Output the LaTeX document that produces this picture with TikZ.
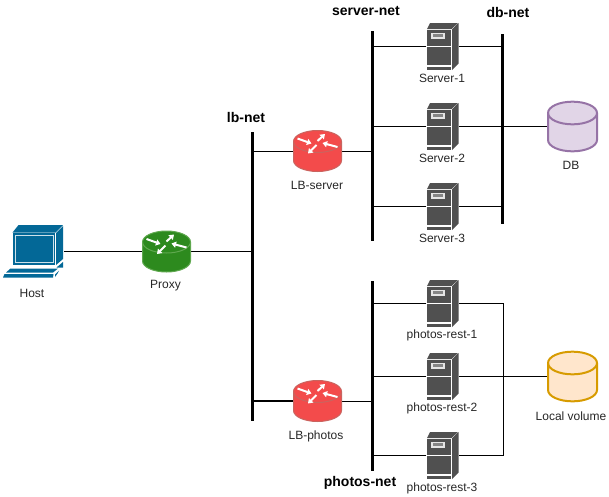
\documentclass[tikz,border=0pt]{standalone}
\usepackage{fontspec}
\setmainfont{Liberation Sans}
\usetikzlibrary{arrows.meta}
\definecolor{hostblue}{HTML}{036897}
\definecolor{srvgrey}{HTML}{505050}
\definecolor{redfill}{HTML}{F34B4B}
\definecolor{redline}{HTML}{C9645F}
\definecolor{greenfill}{HTML}{2D8A1E}
\definecolor{greenline}{HTML}{5FA84F}
\definecolor{dbfill}{HTML}{E1D5E7}
\definecolor{dbline}{HTML}{9673A6}
\definecolor{volfill}{HTML}{FFE6CC}
\definecolor{volline}{HTML}{D79B00}
\tikzset{
  x=0.75pt,y=-0.75pt,
  hostbox/.style={inner sep=0pt,outer sep=0pt,minimum width=45.75pt,minimum height=39.75pt},
  routerbox/.style={inner sep=0pt,outer sep=0pt,minimum width=36.75pt,minimum height=30.75pt},
  serverbox/.style={inner sep=0pt,outer sep=0pt,minimum width=24.75pt,minimum height=35.25pt},
  cylbox/.style={inner sep=0pt,outer sep=0pt,minimum width=38.25pt,minimum height=38.25pt},
  busbar/.style={fill=black,inner sep=0pt,outer sep=0pt,minimum width=2.25pt},
  wire/.style={draw=black,line width=0.75pt},
  lbl/.style={font=\fontsize{9}{11}\selectfont,inner sep=0pt,text=black!85},
  netlbl/.style={font=\fontsize{10.5}{12}\selectfont\bfseries,inner sep=0pt},
  rarrow/.style={draw=white,line width=1.5pt,-{Triangle[width=4.6pt,length=3.4pt]}},
}
\newcommand{\servericon}[2]{%
  \begin{scope}[shift={(#1,#2)}]
    \fill[srvgrey] (3,-23.5) -- (31,-23.5) -- (24.5,-17.5) -- (0,-17.5) -- cycle;
    \fill[srvgrey] (25,-17.2) -- (31.5,-23.5) -- (31.5,17) -- (25,23.5) -- cycle;
    \fill[srvgrey] (0,-17) rectangle (24,-1);
    \fill[white!90!black] (3.5,-14) rectangle (18,-7.5);
    \fill[srvgrey!70!white] (5.5,-12.2) rectangle (16,-9.3);
    \fill[srvgrey] (0,0) rectangle (24,18.5);
    \fill[srvgrey] (0,20) rectangle (24,23.5);
  \end{scope}}
\newcommand{\routericon}[4]{%
  \begin{scope}[shift={(#1,#2)}]
    \filldraw[fill=#3,draw=#4,line width=0.75pt] (-24,-9.5) -- (-24,9.5)
      arc[start angle=180,end angle=360,x radius=18pt,y radius=8.25pt]
      -- (24,-9.5) arc[start angle=0,end angle=180,x radius=18pt,y radius=8.25pt] -- cycle;
    \draw[draw=#4,line width=0.75pt] (-24,-9.5) arc[start angle=180,end angle=360,x radius=18pt,y radius=8.25pt];
    \draw[rarrow] (-20,-12.5) -- (-6,-7.5);
    \draw[rarrow] (0,-10) -- (7.5,-17);
    \draw[rarrow] (20,-4) -- (5,-8);
    \draw[rarrow] (-1,-6) -- (-9.5,2.5);
  \end{scope}}
\newcommand{\cylicon}[4]{%
  \begin{scope}[shift={(#1,#2)}]
    \filldraw[fill=#3,draw=#4,line width=1.5pt] (-24.5,-13.5) -- (-24.5,13.5)
      arc[start angle=180,end angle=360,x radius=18.375pt,y radius=8.5pt]
      -- (24.5,-13.5) arc[start angle=0,end angle=180,x radius=18.375pt,y radius=8.5pt] -- cycle;
    \draw[draw=#4,line width=1.5pt] (-24.5,-13.5) arc[start angle=180,end angle=360,x radius=18.375pt,y radius=8.5pt];
  \end{scope}}
\begin{document}
\begin{tikzpicture}
\useasboundingbox (0,0) rectangle (609,496);
% nodes
\node[hostbox] (host) at (33.5,251.5) {};
\node[routerbox] (proxy) at (166.5,251.5) {};
\node[routerbox] (lbserver) at (317.5,151) {};
\node[routerbox] (lbphotos) at (317.5,401) {};
\node[serverbox] (s1) at (442.5,46.5) {};
\node[serverbox] (s2) at (442.5,126.5) {};
\node[serverbox] (s3) at (442.5,206.5) {};
\node[serverbox] (p1) at (442.5,303.5) {};
\node[serverbox] (p2) at (442.5,376.5) {};
\node[serverbox] (p3) at (442.5,455.5) {};
\node[cylbox] (db) at (572.5,126.5) {};
\node[cylbox] (vol) at (572.5,376.5) {};
\node[busbar,minimum height=216.75pt] (lbnet) at (252.5,276.5) {};
\node[busbar,minimum height=157.5pt] (servernet) at (372.5,136) {};
\node[busbar,minimum height=142.5pt] (dbnet) at (502.5,129) {};
\node[busbar,minimum height=142.5pt] (photosnet) at (372.5,376) {};
% connectors
\draw[wire] (host.east) -- (proxy.west);
\draw[wire] (proxy.east) -- (proxy.east -| lbnet.center);
\draw[wire] (lbserver.west) -- (lbserver.west -| lbnet.center);
\draw[wire,line width=1.4pt] (lbphotos.west) -- (lbphotos.west -| lbnet.center);
\draw[wire] (lbserver.east) -- (lbserver.east -| servernet.center);
\draw[wire] (lbphotos.east) -- (lbphotos.east -| photosnet.center);
\foreach \n in {s1,s2,s3}{
  \draw[wire] (\n.west) -- (\n.west -| servernet.center);
  \draw[wire] (\n.east) -- (\n.east -| dbnet.center);
}
\draw[wire] (dbnet.center |- db.west) -- (db.west);
\foreach \n in {p1,p2,p3}
  \draw[wire] (\n.west) -- (\n.west -| photosnet.center);
\draw[wire] (p1.east) -- ++(44,0) |- (p3.east);
\draw[wire] (p2.east) -- (vol.west);
% host icon
\begin{scope}
  \fill[hostblue] (18.5,225) -- (63,225) -- (55.5,232.5) -- (12.5,232.5) -- cycle;
  \fill[hostblue] (56,233) -- (63,226) -- (63,259) -- (56,265) -- cycle;
  \fill[hostblue] (13,233) rectangle (55,264.5);
  \draw[white!80!hostblue,line width=0.7pt] (15,235) rectangle (53,262.5);
  \fill[hostblue] (63,262) -- (63,267.5) -- (56.5,267.5) -- cycle;
  \fill[hostblue] (10.5,268.5) -- (58,268.5) -- (53,272.5) -- (6,272.5) -- cycle;
  \fill[hostblue] (4.5,274) -- (53.5,274) -- (53,277.5) -- (3,277.5) -- cycle;
  \fill[hostblue] (55,274.5) -- (59,270.5) -- (57.5,273.5) -- (55,277) -- cycle;
\end{scope}
\routericon{166.5}{251.5}{greenfill}{greenline}
\routericon{317.5}{151}{redfill}{redline}
\routericon{317.5}{401}{redfill}{redline}
\servericon{427}{46.5}
\servericon{427}{126.5}
\servericon{427}{206.5}
\servericon{427}{303.5}
\servericon{427}{376.5}
\servericon{427}{455.5}
\cylicon{572.5}{126.5}{dbfill}{dbline}
\cylicon{572.5}{376.5}{volfill}{volline}
% labels
\node[lbl] (thost) at (32,293.5) {Host};
\node[lbl] (tproxy) at (165.5,286) {Proxy};
\node[lbl] (tlbs) at (317,185.5) {LB-server};
\node[lbl] (tlbp) at (316,436) {LB-photos};
\node[lbl] (ts1) at (442,78.7) {Server-1};
\node[lbl] (ts2) at (442,158.7) {Server-2};
\node[lbl] (ts3) at (442,238.7) {Server-3};
\node[lbl] (tp1) at (442,335.7) {photos-rest-1};
\node[lbl] (tp2) at (442,408.7) {photos-rest-2};
\node[lbl] (tp3) at (442,488.7) {photos-rest-3};
\node[lbl] (tdb) at (571,165.7) {DB};
\node[lbl] (tvol) at (571,416) {Local volume};
\node[netlbl] (nlb) at (246,117.5) {lb-net};
\node[netlbl] (nserver) at (366,11) {server-net};
\node[netlbl] (ndb) at (508,12.5) {db-net};
\node[netlbl] (nphotos) at (360,482.5) {photos-net};
\end{tikzpicture}
\end{document}
